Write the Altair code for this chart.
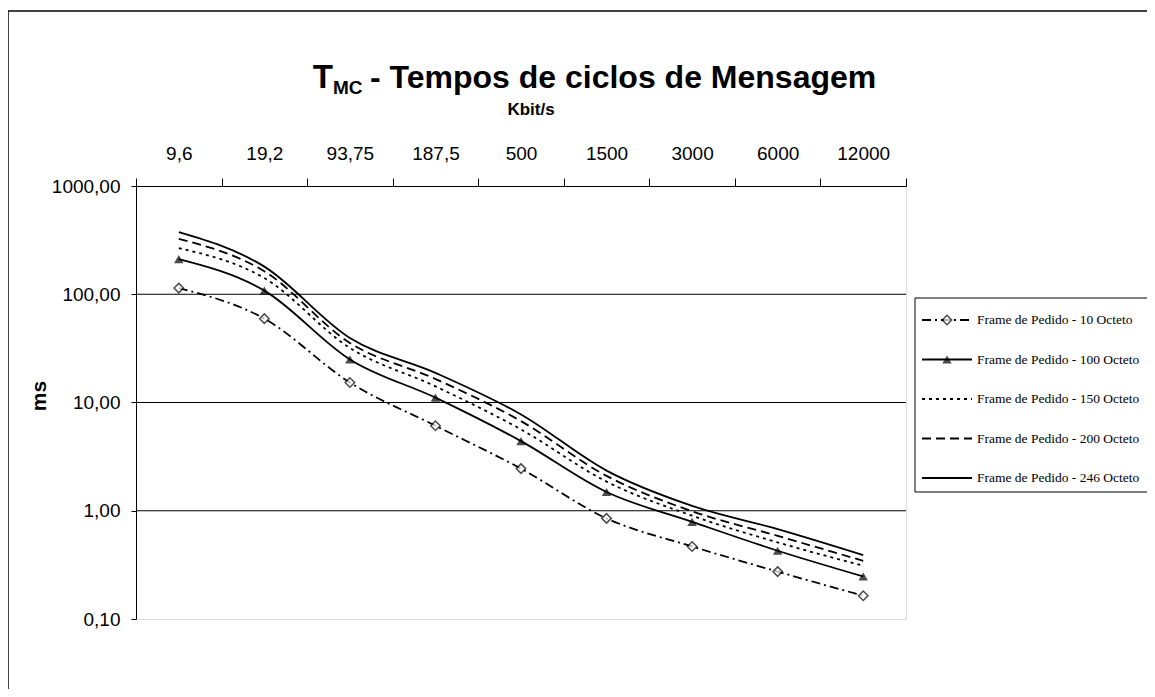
import altair as alt
import pandas as pd

# ---- data ----
cats = ["9,6", "19,2", "93,75", "187,5", "500", "1500", "3000", "6000", "12000"]
series_names = [
    "Frame de Pedido - 10 Octeto",
    "Frame de Pedido - 100 Octeto",
    "Frame de Pedido - 150 Octeto",
    "Frame de Pedido - 200 Octeto",
    "Frame de Pedido - 246 Octeto",
]
o10 = [114, 59.5, 15.3, 6.1, 2.45, 0.85, 0.468, 0.274, 0.164]
o100 = [211, 108, 25, 11.1, 4.4, 1.49, 0.79, 0.427, 0.247]
o150 = [267, 141, 31.9, 14.1, 5.64, 1.86, 0.90, 0.51, 0.311]
o200 = [325, 163, 35.5, 16.5, 6.73, 2.1, 0.99, 0.586, 0.345]
o246 = [374, 180, 39.5, 18.8, 7.76, 2.35, 1.11, 0.676, 0.389]
series_values = [o10, o100, o150, o200, o246]
y_ticks = [0.1, 1, 10, 100, 1000]
grid_vals = [1, 10, 100]

# ---- styles ----
dashes = [[9, 4, 2, 4], None, [3, 4], [9, 5], None]
W, H = 770, 433
SANS = "Liberation Sans, Arial, sans-serif"
SERIF = "Liberation Serif, Times New Roman, serif"

x_enc = alt.X(
    "cat:N",
    sort=cats,
    bandPosition=0.5,
    scale=alt.Scale(type="band", domain=cats, paddingInner=0, paddingOuter=0),
    axis=alt.Axis(
        orient="top", title=None, labelAngle=0, tickBand="extent", tickSize=8,
        labelPadding=15, labelFontSize=19, labelFont=SANS, grid=False,
        domainColor="black", tickColor="black", labelColor="black",
    ),
)
y_scale = alt.Scale(type="log", domain=[0.1, 1000])
y_enc = alt.Y(
    "val:Q",
    scale=y_scale,
    axis=alt.Axis(
        values=y_ticks, title=None, grid=False, tickSize=5, labelPadding=11,
        labelExpr="replace(format(datum.value, '.2f'), '.', ',')",
        labelFontSize=19, labelFont=SANS, domainColor="black",
        tickColor="black", labelColor="black",
    ),
)

layers = []

# grid lines
grid_df = pd.DataFrame({"val": grid_vals})
layers.append(alt.Chart(grid_df).mark_rule(color="black", strokeWidth=1).encode(y=y_enc))

# series lines
for name, vals, d in zip(series_names, series_values, dashes):
    df = pd.DataFrame({"cat": cats, "val": vals, "series": name})
    kw = dict(color="black", strokeWidth=1.8, interpolate="monotone")
    if d:
        kw["strokeDash"] = d
    layers.append(alt.Chart(df).mark_line(**kw).encode(x=x_enc, y=y_enc))

# markers
df10 = pd.DataFrame({"cat": cats, "val": o10})
df100 = pd.DataFrame({"cat": cats, "val": o100})
layers.append(alt.Chart(df100).mark_point(shape="triangle-up", filled=True, color="black", size=90).encode(x=x_enc, y=y_enc))
layers.append(alt.Chart(df10).mark_point(shape="diamond", filled=True, fill="white", stroke="black", strokeWidth=1.5, size=90).encode(x=x_enc, y=y_enc))

# ---- legend (manual) ----
one = pd.DataFrame({"k": [0]})
leg_x0, leg_y0, leg_y1 = 779, 112, 306
layers.append(alt.Chart(one).mark_rect(fill="white", stroke="black", strokeWidth=1).encode(
    x=alt.value(leg_x0), x2=alt.value(1012), y=alt.value(leg_y0), y2=alt.value(leg_y1)))
leg_ys = [134, 173.5, 213, 252.5, 292]
for i, (name, d) in enumerate(zip(series_names, dashes)):
    kw = dict(color="black", strokeWidth=2)
    if d:
        kw["strokeDash"] = d
    layers.append(alt.Chart(one).mark_rule(**kw).encode(
        x=alt.value(786), x2=alt.value(836), y=alt.value(leg_ys[i])))
    layers.append(alt.Chart(pd.DataFrame({"t": [name]})).mark_text(
        align="left", baseline="middle", font=SERIF, fontSize=13.5, color="black").encode(
        x=alt.value(841), y=alt.value(leg_ys[i]), text="t:N"))
layers.append(alt.Chart(one).mark_point(shape="diamond", filled=True, fill="white", stroke="black", strokeWidth=1.5, size=90).encode(
    x=alt.value(811), y=alt.value(leg_ys[0])))
layers.append(alt.Chart(one).mark_point(shape="triangle-up", filled=True, color="black", size=90).encode(
    x=alt.value(811), y=alt.value(leg_ys[1])))

# ---- titles ----
def txt(s, x, y, size, bold=True, align="left", baseline="alphabetic", angle=0, font=SANS):
    return alt.Chart(pd.DataFrame({"t": [s]})).mark_text(
        align=align, baseline=baseline, fontSize=size, fontWeight="bold" if bold else "normal",
        font=font, color="black", angle=angle).encode(x=alt.value(x), y=alt.value(y), text="t:N")

layers.append(txt("T", 197, -98, 33, align="right"))
layers.append(txt("MC", 197, -92, 19))
layers.append(txt("- Tempos de ciclos de Mensagem", 234, -98, 32))
layers.append(txt("Kbit/s", 395, -76, 17, align="center", baseline="middle"))
layers.append(txt("ms", -96, 210, 21, align="center", baseline="middle", angle=270))

# ---- outer frame ----
layers.append(alt.Chart(one).mark_rule(color="black", strokeWidth=1.5).encode(
    x=alt.value(-128), y=alt.value(-175), y2=alt.value(503)))
layers.append(alt.Chart(one).mark_rule(color="black", strokeWidth=1.5).encode(
    x=alt.value(-128), x2=alt.value(1012), y=alt.value(-175)))

chart = alt.layer(*layers).properties(
    width=W, height=H,
    autosize=alt.AutoSizeParams(type="none"),
    padding={"left": 128, "top": 178, "right": 241, "bottom": 70},
).configure_view(stroke="#a0a0a0", strokeWidth=2).configure(background="white")

chart.save("out.html", embed_options={"renderer": "svg", "actions": False})
